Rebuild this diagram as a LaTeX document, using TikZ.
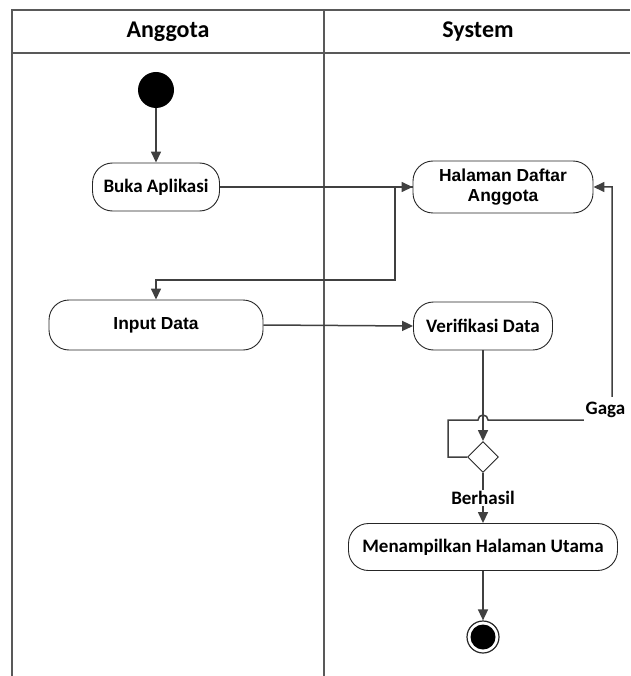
\documentclass[tikz,border=0pt]{standalone}
\usepackage{fontspec}
\setmainfont{Carlito}
\newfontfamily\arialfont{Liberation Sans}
\usetikzlibrary{arrows.meta,shapes.geometric}
\begin{document}
\begin{tikzpicture}[x=1pt,y=-1pt,
  lanes/.style={draw=black!65, line width=2pt},
  act/.style={draw=black!85, line width=0.9pt, rounded corners=20pt, fill=white,
    align=center, inner sep=0pt, font=\fontsize{19}{22}\selectfont\bfseries},
  actarial/.style={act, font=\arialfont\fontsize{17.4}{20}\selectfont\bfseries},
  conn/.style={draw=black!75, line width=1.5pt},
  flow/.style={conn, -{Triangle[length=11pt,width=10pt]}},
  lbl/.style={fill=white, inner sep=1.5pt, font=\fontsize{19}{22}\selectfont\bfseries},
  hdr/.style={font=\fontsize{24}{28}\selectfont\bfseries}
]
\useasboundingbox (0,0) rectangle (630,676);
% swimlane frame
\draw[lanes] (12,676) -- (12,10) -- (630,10);
\draw[lanes] (12,53) -- (630,53);
\draw[lanes] (324,10) -- (324,676);
\node[hdr] (h1) at (168,32) {Anggota};
\node[hdr] (h2) at (478,32) {System};

% nodes
\node[circle, fill=black, minimum size=36pt, inner sep=0pt] (start) at (156,90) {};
\node[act, minimum width=127pt, minimum height=48pt] (buka) at (156,187) {Buka Aplikasi};
\node[actarial, minimum width=180pt, minimum height=52pt] (hal) at (503,187) {Halaman Daftar\\Anggota};
\node[actarial, minimum width=214pt, minimum height=50pt] (input) at (156,325) {Input Data};
\node[act, minimum width=139pt, minimum height=48pt] (ver) at (483,326) {Verifikasi Data};
\node[diamond, draw=black!85, line width=0.9pt, fill=white, minimum width=31pt, minimum height=31pt, inner sep=0pt] (dec) at (483,457) {};
\node[act, minimum width=269pt, minimum height=47pt] (menu) at (483,547) {Menampilkan Halaman Utama};
\node[circle, draw=black!85, line width=1.2pt, fill=white, minimum size=32pt, inner sep=0pt] (end) at (483,637) {};
\node[circle, fill=black, minimum size=25pt, inner sep=0pt] (endin) at (end.center) {};

% connectors
\draw[flow] (start) -- (buka);
\draw[flow] (buka.east) -- (hal.west);
\coordinate (split) at (395,187);
\draw[flow] (hal.west) -- (split) -- (395,280) -| (input.north);
\draw[flow] (input.east) -- (ver.west);
\draw[flow] (ver.south) -- (dec.north);
\draw[flow] (dec.west) -- (448,457) -- (448,420) -- (478,420)
  arc[start angle=180, end angle=360, radius=5] -- (612,420) |- (hal.east);
\node[lbl, anchor=west, inner ysep=5pt] (gaga) at (584,410) {Gaga};
\draw[flow] (dec.south) -- node[lbl] (berhasil) {Berhasil} (menu.north);
\draw[flow] (menu.south) -- (end.north);
\end{tikzpicture}
\end{document}
